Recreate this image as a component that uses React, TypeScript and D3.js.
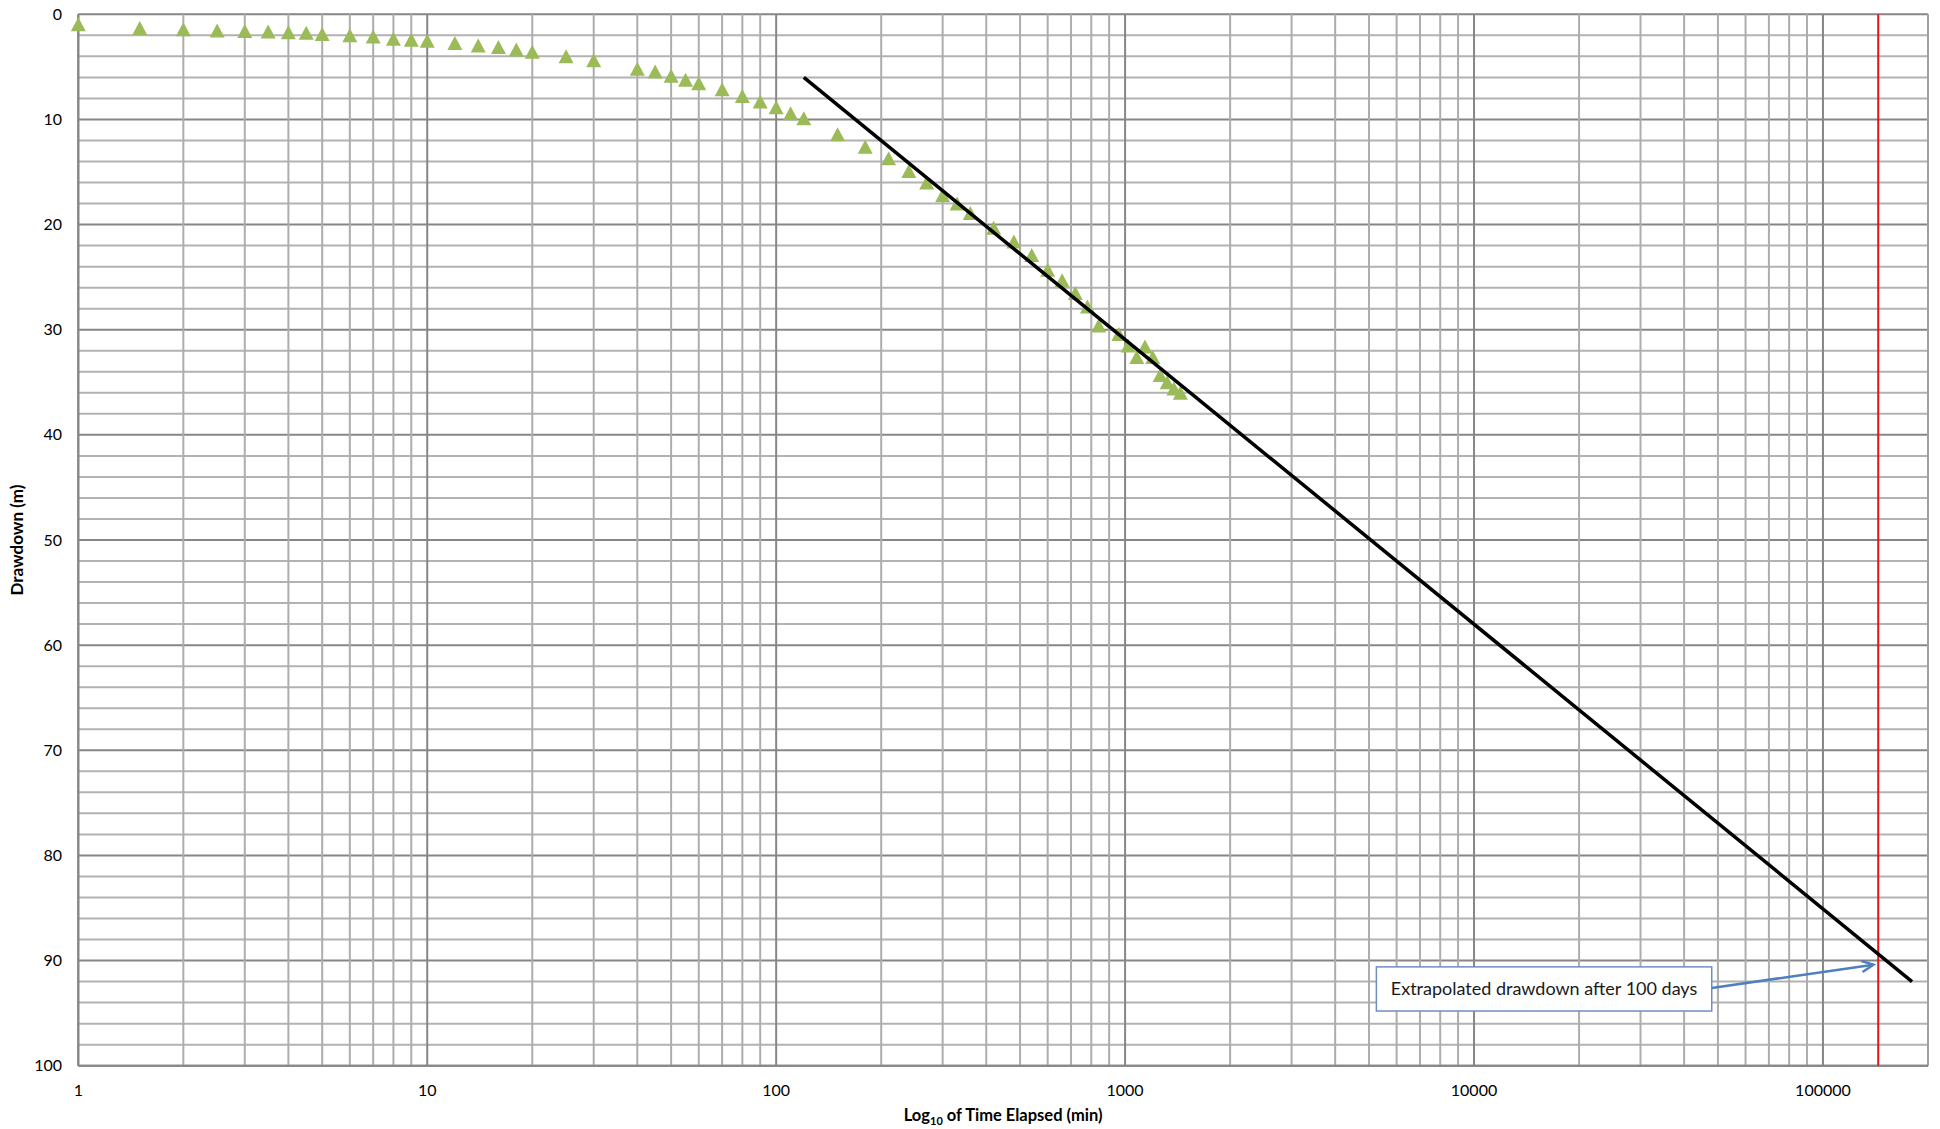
import React from "react";
import * as d3 from "d3";

// ---- data ----
const timeMin = [1, 1.5, 2, 2.5, 3, 3.5, 4, 4.5, 5, 6, 7, 8, 9, 10, 12, 14, 16, 18, 20, 25, 30, 40, 45, 50, 55, 60, 70, 80, 90, 100, 110, 120, 150, 180, 210, 240, 270, 300, 330, 360, 420, 480, 540, 600, 660, 720, 780, 840, 960, 1020, 1080, 1140, 1200, 1260, 1320, 1380, 1440];
const drawdown = [0.95, 1.3, 1.42, 1.55, 1.58, 1.63, 1.7, 1.76, 1.88, 2.0, 2.1, 2.32, 2.42, 2.52, 2.74, 2.96, 3.12, 3.35, 3.57, 4.0, 4.38, 5.17, 5.43, 5.85, 6.23, 6.55, 7.12, 7.76, 8.29, 8.83, 9.4, 9.88, 11.4, 12.6, 13.7, 14.9, 16.0, 17.2, 18.0, 18.9, 20.3, 21.6, 22.9, 24.3, 25.3, 26.5, 27.8, 29.6, 30.4, 31.5, 32.6, 31.6, 32.6, 34.3, 35.0, 35.6, 36.0];
const fitLineTime = [120, 180000];
const fitLineDrawdown = [6.0, 92.0];
const hundredDaysMin = [144000];
const xTickValues = [1, 10, 100, 1000, 10000, 100000];
const yTickValues = [0, 10, 20, 30, 40, 50, 60, 70, 80, 90, 100];
const xDomain = [1, 200000];
const yDomain = [0, 100];
const annotationText = "Extrapolated drawdown after 100 days";
const annotationBoxTime = [5250, 48000];
const annotationBoxDrawdown = [90.6, 94.8];
const arrowTailDrawdown = [92.6];
const arrowTip = [139500, 90.4];

const W = 1940;
const H = 1129;
const left = 78.3;
const right = 1928;
const top = 14.3;
const bottom = 1065.7;

const FONT = "Lato, 'Open Sans', sans-serif";

export default function App() {
  const x = d3.scaleLog().domain(xDomain).range([left, right]);
  const y = d3.scaleLinear().domain(yDomain).range([top, bottom]);

  const vGrid: { v: number; major: boolean }[] = [];
  for (let d = 0; d <= 5; d++) {
    for (let k = 1; k <= 9; k++) {
      const v = k * Math.pow(10, d);
      if (v <= xDomain[1]) vGrid.push({ v, major: k === 1 });
    }
  }
  const hGrid: { v: number; major: boolean }[] = d3
    .range(0, 101, 2)
    .map((v) => ({ v, major: v % 10 === 0 }));

  const tri = (cx: number, cy: number) => {
    const w = 15, h = 14;
    return `M${cx},${cy - h / 2}L${cx + w / 2},${cy + h / 2}L${cx - w / 2},${cy + h / 2}Z`;
  };

  const line = d3
    .line<number>()
    .x((_, i) => x(fitLineTime[i]))
    .y((d) => y(d));

  const bx0 = x(annotationBoxTime[0]);
  const bx1 = x(annotationBoxTime[1]);
  const by0 = y(annotationBoxDrawdown[0]);
  const by1 = y(annotationBoxDrawdown[1]);
  const tailX = bx1;
  const tailY = y(arrowTailDrawdown[0]);
  const tipX = x(arrowTip[0]);
  const tipY = y(arrowTip[1]);
  const ang = Math.atan2(tipY - tailY, tipX - tailX);
  const ah = 13;
  const spread = 0.45;
  const a1x = tipX - ah * Math.cos(ang - spread);
  const a1y = tipY - ah * Math.sin(ang - spread);
  const a2x = tipX - ah * Math.cos(ang + spread);
  const a2y = tipY - ah * Math.sin(ang + spread);

  return (
    <div style={{ position: "absolute", left: 0, top: 0 }}>
      <svg width={W} height={H} style={{ display: "block", background: "#fff" }}>
        {/* horizontal grid */}
        {hGrid.map((g) => (
          <line
            key={"h" + g.v}
            x1={left}
            x2={right}
            y1={y(g.v)}
            y2={y(g.v)}
            stroke={g.major ? "#868686" : "#b2b2b2"}
            strokeWidth={2}
          />
        ))}
        {/* vertical grid */}
        {vGrid.map((g) => (
          <line
            key={"v" + g.v}
            x1={x(g.v)}
            x2={x(g.v)}
            y1={top}
            y2={bottom}
            stroke={g.major ? "#868686" : "#adadad"}
            strokeWidth={2}
          />
        ))}
        {/* right border */}
        <line x1={right} x2={right} y1={top} y2={bottom} stroke="#a0a0a0" strokeWidth={2} />
        {/* axes lines */}
        <line x1={left} x2={left} y1={top} y2={bottom} stroke="#868686" strokeWidth={2} />
        <line x1={left} x2={right} y1={bottom} y2={bottom} stroke="#868686" strokeWidth={2} />

        {/* y tick labels */}
        {yTickValues.map((v) => (
          <text
            key={"yt" + v}
            x={62}
            y={y(v)}
            dy="0.35em"
            textAnchor="end"
            fontFamily={FONT}
            fontSize={16}
            fill="#000"
          >
            {v}
          </text>
        ))}
        {/* x tick labels */}
        {xTickValues.map((v) => (
          <text
            key={"xt" + v}
            x={x(v)}
            y={1090}
            dy="0.35em"
            textAnchor="middle"
            fontFamily={FONT}
            fontSize={16}
            fill="#000"
          >
            {v}
          </text>
        ))}

        {/* axis titles */}
        <text
          x={(left + right) / 2}
          y={1121}
          textAnchor="middle"
          fontFamily={FONT}
          fontSize={16.5}
          fontWeight="bold"
          fill="#000"
        >
          Log
          <tspan fontSize={11} dy={4}>10</tspan>
          <tspan dy={-4}> of Time Elapsed (min)</tspan>
        </text>
        <text
          transform={`translate(23,${(top + bottom) / 2}) rotate(-90)`}
          textAnchor="middle"
          fontFamily={FONT}
          fontSize={17}
          fontWeight="bold"
          fill="#000"
        >
          Drawdown (m)
        </text>

        {/* red 100-day line */}
        <line
          x1={x(hundredDaysMin[0])}
          x2={x(hundredDaysMin[0])}
          y1={top}
          y2={bottom}
          stroke="#e8141a"
          strokeWidth={2}
        />

        {/* data points */}
        {timeMin.map((t, i) => (
          <path key={"p" + i} d={tri(x(t), y(drawdown[i]))} fill="#9bbb59" />
        ))}

        {/* fitted line */}
        <path d={line(fitLineDrawdown) || ""} stroke="#000" strokeWidth={3.5} fill="none" />

        {/* annotation */}
        <rect
          x={bx0}
          y={by0}
          width={bx1 - bx0}
          height={by1 - by0}
          fill="#fff"
          stroke="#6f8fbf"
          strokeWidth={1.5}
        />
        <text
          x={(bx0 + bx1) / 2}
          y={(by0 + by1) / 2}
          dy="0.35em"
          textAnchor="middle"
          fontFamily={FONT}
          fontSize={18}
          fill="#1a1a1a"
        >
          {annotationText}
        </text>
        <line x1={tailX} y1={tailY} x2={tipX} y2={tipY} stroke="#4f7fbf" strokeWidth={2.5} />
        <polyline
          points={`${a1x},${a1y} ${tipX},${tipY} ${a2x},${a2y}`}
          fill="none"
          stroke="#4f7fbf"
          strokeWidth={2.5}
        />
      </svg>
    </div>
  );
}
